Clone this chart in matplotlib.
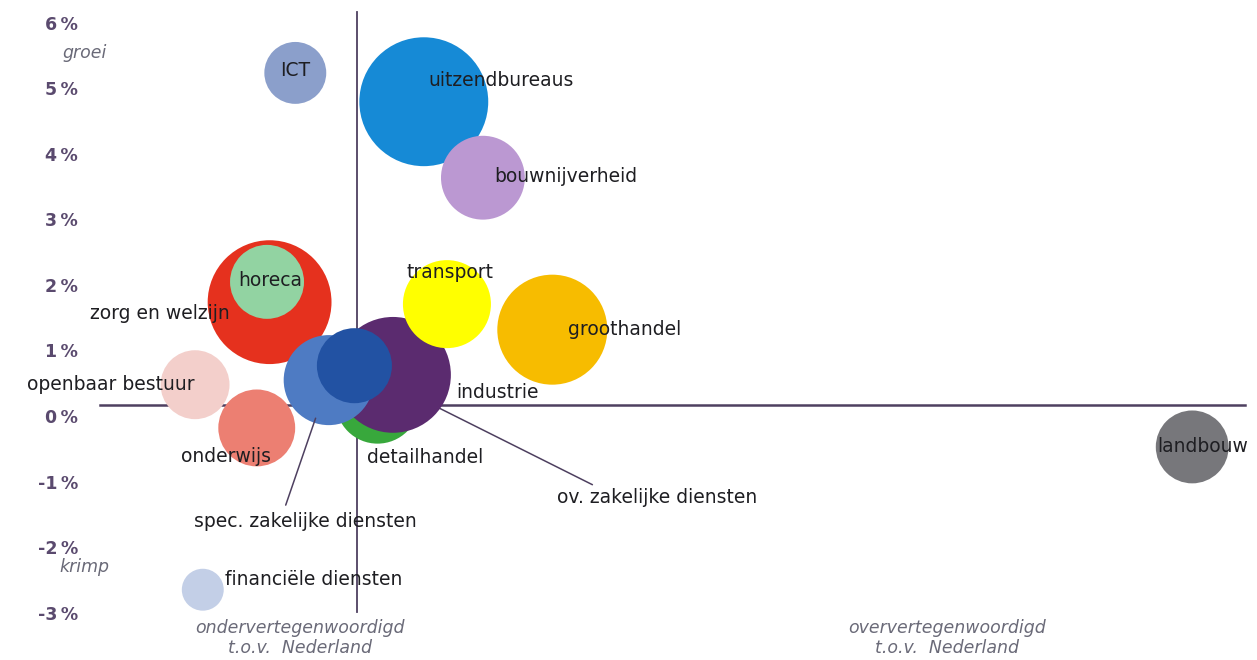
import numpy as np
from matplotlib import pyplot as plt

# sectoren: x = specialisatie t.o.v. Nederland (1 = gelijk), y = groei banen (%)
sectoren = ['landbouw', 'financiële diensten', 'openbaar bestuur', 'onderwijs',
            'zorg en welzijn', 'horeca', 'detailhandel', 'industrie',
            'spec. zakelijke diensten', 'ov. zakelijke diensten', 'transport',
            'groothandel', 'uitzendbureaus', 'bouwnijverheid', 'ICT']
specialisatie = [4.25, 0.40, 0.37, 0.61, 0.66, 0.65, 1.08, 1.14,
                 0.89, 0.99, 1.35, 1.76, 1.26, 1.49, 0.76]
groei = [-0.64, -2.82, 0.31, -0.35, 1.57, 1.88, 0.05, 0.46,
         0.38, 0.60, 1.54, 1.15, 4.63, 3.47, 5.07]
banen = [13.3, 4.4, 11.9, 14.8, 38.4, 13.7, 17.6, 33.6,
         20.3, 14.1, 19.4, 30.3, 41.6, 17.6, 9.6]
kleuren = ['#77777b', '#c3cfe7', '#f3cfcb', '#ec7f72', '#e5311e', '#92d3a2',
           '#38a83c', '#5b2b6f', '#4e7bc3', '#2252a3', '#ffff00', '#f7bc00',
           '#168ad6', '#bb98d2', '#8b9fcb']
y_ticks = [6, 5, 4, 3, 2, 1, 0, -1, -2, -3]

# label placement (offset in pixels from bubble centre, alignment)
label_pos = {
    'ICT': ((0, 2), 'center'),
    'uitzendbureaus': ((5, 21), 'left'),
    'bouwnijverheid': ((11, 1), 'left'),
    'horeca': ((3, 1), 'center'),
    'zorg en welzijn': ((-40, -11), 'right'),
    'transport': ((3, 32), 'center'),
    'groothandel': ((16, 0), 'left'),
    'industrie': ((63, -18), 'left'),
    'detailhandel': ((-11, -56), 'left'),
    'ov. zakelijke diensten': ((203, -132), 'left'),
    'spec. zakelijke diensten': ((-23, -141), 'center'),
    'financiële diensten': ((22, 10), 'left'),
    'onderwijs': ((-31, -29), 'center'),
    'openbaar bestuur': ((0, 0), 'right'),
    'landbouw': ((-35, 0), 'left'),
}

as_kleur = '#4e4060'
tick_kleur = '#5a4a6e'
tekst_kleur = '#6a6a78'

fig = plt.figure(figsize=(12.57, 6.6), dpi=100)
ax = fig.add_axes([0, 0, 1, 1])
ax.set_xlim(-0.389, 4.502)
ax.set_ylim(-3.893, 6.183)
ax.axis('off')

# assen
ax.plot([0, 4.455], [0, 0], color=as_kleur, lw=1.8, zorder=1)
ax.plot([1, 1], [-3.16, 6.0], color=as_kleur, lw=1.3, zorder=1)

# leader lines
i_ov = sectoren.index('ov. zakelijke diensten')
ax.annotate('', xy=(specialisatie[i_ov], groei[i_ov]), xytext=(238, -119),
            textcoords='offset pixels',
            arrowprops=dict(arrowstyle='-', color=as_kleur, lw=1.1, shrinkA=0, shrinkB=0),
            zorder=1.5)
i_sp = sectoren.index('spec. zakelijke diensten')
ax.annotate('', xy=(specialisatie[i_sp], groei[i_sp]), xytext=(-43, -125),
            textcoords='offset pixels',
            arrowprops=dict(arrowstyle='-', color=as_kleur, lw=1.1, shrinkA=0, shrinkB=29),
            zorder=20)

for i, naam in enumerate(sectoren):
    ax.scatter(specialisatie[i], groei[i], s=banen[i] * 207, color=kleuren[i],
               edgecolors='none', zorder=2 + i)

for i, naam in enumerate(sectoren):
    off, ha = label_pos[naam]
    ax.annotate(naam, xy=(specialisatie[i], groei[i]), xytext=off,
                textcoords='offset pixels', ha=ha, va='center',
                fontsize=13.5, color='#1e1e22', zorder=30)

for v in y_ticks:
    ax.annotate(f'{v}\u2009%', xy=(-0.086, v), xytext=(0, -13), textcoords='offset pixels',
                ha='right', va='center', fontsize=12.5, fontweight='bold', color=tick_kleur)

ax.text(-0.058, 5.37, 'groei', ha='center', va='center', fontsize=12.5,
        style='italic', color=tekst_kleur)
ax.text(-0.062, -2.47, 'krimp', ha='center', va='center', fontsize=12.5,
        style='italic', color=tekst_kleur)
ax.text(0.778, -3.56, 'ondervertegenwoordigd\nt.o.v.  Nederland', ha='center',
        va='center', fontsize=12.5, style='italic', color=tekst_kleur, linespacing=1.1)
ax.text(3.296, -3.56, 'oververtegenwoordigd\nt.o.v.  Nederland', ha='center',
        va='center', fontsize=12.5, style='italic', color=tekst_kleur, linespacing=1.1)

fig.savefig('out.png', dpi=100)
